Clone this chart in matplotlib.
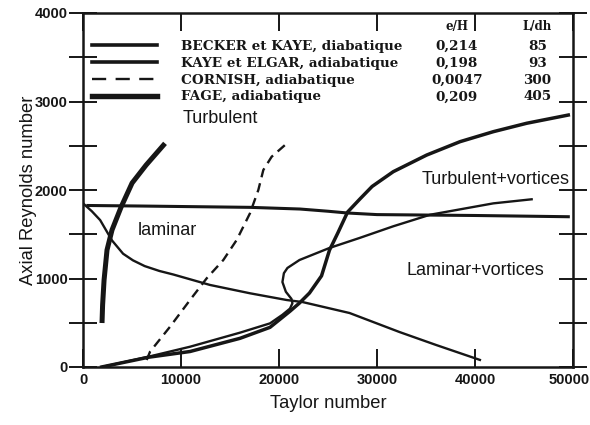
import matplotlib
matplotlib.use("Agg")
import matplotlib.pyplot as plt
from matplotlib.lines import Line2D
from matplotlib.transforms import ScaledTranslation

# ---------------- data ----------------
fage_x = [1940, 2000, 2150, 2450, 2960, 3890, 5010, 6440, 8370]
fage_y = [497, 700, 983, 1322, 1548, 1808, 2079, 2282, 2527]

flat_x = [500, 5820, 11000, 17040, 22140, 25000, 27000, 30000, 40000, 49520]
flat_y = [1825, 1819, 1812, 1804, 1785, 1760, 1740, 1722, 1712, 1698]

decr_x = [0, 900, 1750, 2960, 4090, 5100, 6300, 7800, 9220, 12960, 17040, 20780, 22400,
          27200, 32300, 36000, 40500]
decr_y = [1850, 1760, 1660, 1430, 1280, 1205, 1140, 1085, 1045, 927, 833, 757, 734,
          610, 395, 250, 80]

cornish_x = [6500, 6840, 8880, 10920, 12620, 14320, 15680, 17040, 17890, 18400, 19250, 20610]
cornish_y = [79, 173, 455, 757, 1002, 1209, 1435, 1737, 2000, 2226, 2376, 2508]

s_x = [1900, 6670, 10920, 16020, 19080, 21120, 22090, 23110, 24340, 25150, 26000, 27000,
       28270, 29500, 31660, 35070, 38470, 41870, 45270, 49520]
s_y = [0, 110, 175, 324, 448, 630, 723, 836, 1030, 1320, 1514, 1751,
       1900, 2040, 2207, 2395, 2546, 2659, 2754, 2847]

loop_x = [1900, 6670, 10920, 16020, 19080, 20350, 21120, 21370, 21270, 20700, 20350, 20500,
          20860, 22090, 25150, 28220, 31660, 35400, 41870, 45780]
loop_y = [0, 116, 229, 388, 493, 590, 660, 720, 770, 850, 960, 1060,
          1119, 1209, 1345, 1458, 1590, 1720, 1849, 1895]

legend_names = ["BECKER et KAYE, diabatique", "KAYE et ELGAR, adiabatique",
                "CORNISH, adiabatique", "FAGE, adiabatique"]
legend_eh = ["0,214", "0,198", "0,0047", "0,209"]
legend_ldh = ["85", "93", "300", "405"]

regions = ["Turbulent", "laminar", "Turbulent+vortices", "Laminar+vortices"]
region_x = [10200, 5610, 34560, 33060]
region_y = [2810, 1548, 2113, 1096]

x_ticks = [0, 10000, 20000, 30000, 40000, 50000]
y_ticks = [0, 1000, 2000, 3000, 4000]
y_minor = [500, 1500, 2500, 3500]

# ---------------- figure ----------------
ink = "#161616"
fig = plt.figure(figsize=(5.9, 4.25), dpi=100)
ax = fig.add_axes([83 / 590, 58 / 425, 490 / 590, 354 / 425])

ax.plot(fage_x, fage_y, color=ink, lw=3.6, solid_capstyle="butt")
ax.plot(flat_x, flat_y, color=ink, lw=2.2)
ax.plot(decr_x, decr_y, color=ink, lw=1.7)
ax.plot(cornish_x, cornish_y, color=ink, lw=1.7, ls=(0, (4, 2.6)))
ax.plot(s_x, s_y, color=ink, lw=2.5)
ax.plot(loop_x, loop_y, color=ink, lw=1.7)

ax.set_xlim(0, 50000)
ax.set_ylim(0, 4000)
ax.set_xticks(x_ticks)
ax.set_yticks(y_ticks)
ax.set_yticks(y_minor, minor=True)
ax.tick_params(axis="y", which="both", direction="inout", length=20, width=1.4,
               colors=ink, left=True, right=True, labelsize=10.5, pad=1)
ax.tick_params(axis="x", which="both", direction="in", length=13, width=1.4,
               colors=ink, top=True, bottom=True, labelsize=10.5, pad=4)
for lab in ax.get_xticklabels() + ax.get_yticklabels():
    lab.set_fontweight("bold")
    lab.set_family("Liberation Sans")
last = ax.get_xticklabels()[-1]
last.set_transform(last.get_transform() + ScaledTranslation(-4 / 100, 0, fig.dpi_scale_trans))
for sp in ax.spines.values():
    sp.set_linewidth(1.8)
    sp.set_color(ink)

ax.set_xlabel("Taylor number", fontsize=13.2, family="Liberation Sans", labelpad=6, color=ink)
ax.set_ylabel("Axial Reynolds number", fontsize=13.2, family="Liberation Sans", color=ink)
ax.yaxis.set_label_coords(-0.094, 0.5)

for t, x, y in zip(regions, region_x, region_y):
    ax.text(x, y, t, fontsize=13, family="Liberation Sans", color=ink, va="center", ha="left")

# legend
styles = [dict(lw=2.6), dict(lw=2.6), dict(lw=1.7, ls=(0, (6, 4))), dict(lw=3.9)]
handles = [Line2D([], [], color=ink, **s) for s in styles]
leg = ax.legend(handles, legend_names, loc="upper left", bbox_to_anchor=(0.0, 0.95),
                frameon=False, handlelength=4.8, handletextpad=1.8, labelspacing=0.28,
                borderaxespad=0.3, prop=dict(family="DejaVu Serif", weight="bold", size=9.7))
for t in leg.get_texts():
    t.set_color(ink)

fig.canvas.draw()
inv = ax.transAxes.inverted()
for t, eh, ldh in zip(leg.get_texts(), legend_eh, legend_ldh):
    bb = t.get_window_extent()
    yc = inv.transform((0, (bb.y0 + bb.y1) / 2))[1]
    ax.text(0.763, yc, eh, transform=ax.transAxes, ha="center", va="center",
            family="DejaVu Serif", weight="bold", fontsize=9.7, color=ink)
    ax.text(0.927, yc, ldh, transform=ax.transAxes, ha="center", va="center",
            family="DejaVu Serif", weight="bold", fontsize=9.7, color=ink)
ax.text(0.763, 0.962, "e/H", transform=ax.transAxes, ha="center", va="center",
        family="DejaVu Serif", weight="bold", fontsize=8.5, color=ink)
ax.text(0.927, 0.962, "L/dh", transform=ax.transAxes, ha="center", va="center",
        family="DejaVu Serif", weight="bold", fontsize=8.5, color=ink)

fig.savefig("out.png", dpi=100)
